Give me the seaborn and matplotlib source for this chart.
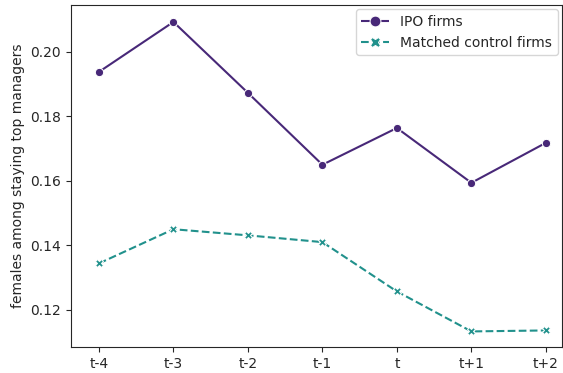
import matplotlib
matplotlib.use("Agg")
import matplotlib.pyplot as plt
import seaborn as sns
import pandas as pd

periods = ["t-4", "t-3", "t-2", "t-1", "t", "t+1", "t+2"]
ipo_firms = [0.1938, 0.2093, 0.1873, 0.1650, 0.1764, 0.1594, 0.1718]
control_firms = [0.1344, 0.1450, 0.1431, 0.1410, 0.1257, 0.1133, 0.1136]
series_names = ["IPO firms", "Matched control firms"]

df = pd.DataFrame({
    "period": periods * 2,
    "value": ipo_firms + control_firms,
    "group": [series_names[0]] * len(periods) + [series_names[1]] * len(periods),
})

sns.set_style("ticks")
fig, ax = plt.subplots(figsize=(5.63, 3.73), dpi=100)
sns.lineplot(data=df, x="period", y="value", hue="group", style="group",
             markers=["o", "X"], dashes=[(1, 0), (3.7, 1.6)],
             palette=["#482878", "#21918c"], markersize=6, linewidth=1.5,
             sort=False, ax=ax)
ax.set_xlabel("")
ax.set_ylabel("females among staying top managers")
ax.set_yticks([0.12, 0.14, 0.16, 0.18, 0.20])
ax.set_ylim(0.1085, 0.2146)
ax.legend(title=None, loc="upper right", markerscale=1.3, borderaxespad=0.3)
ax.set_xlim(-0.376, 6.215)
fig.subplots_adjust(left=0.126, right=0.998, top=0.987, bottom=0.07)
fig.savefig("out.png", dpi=100)
